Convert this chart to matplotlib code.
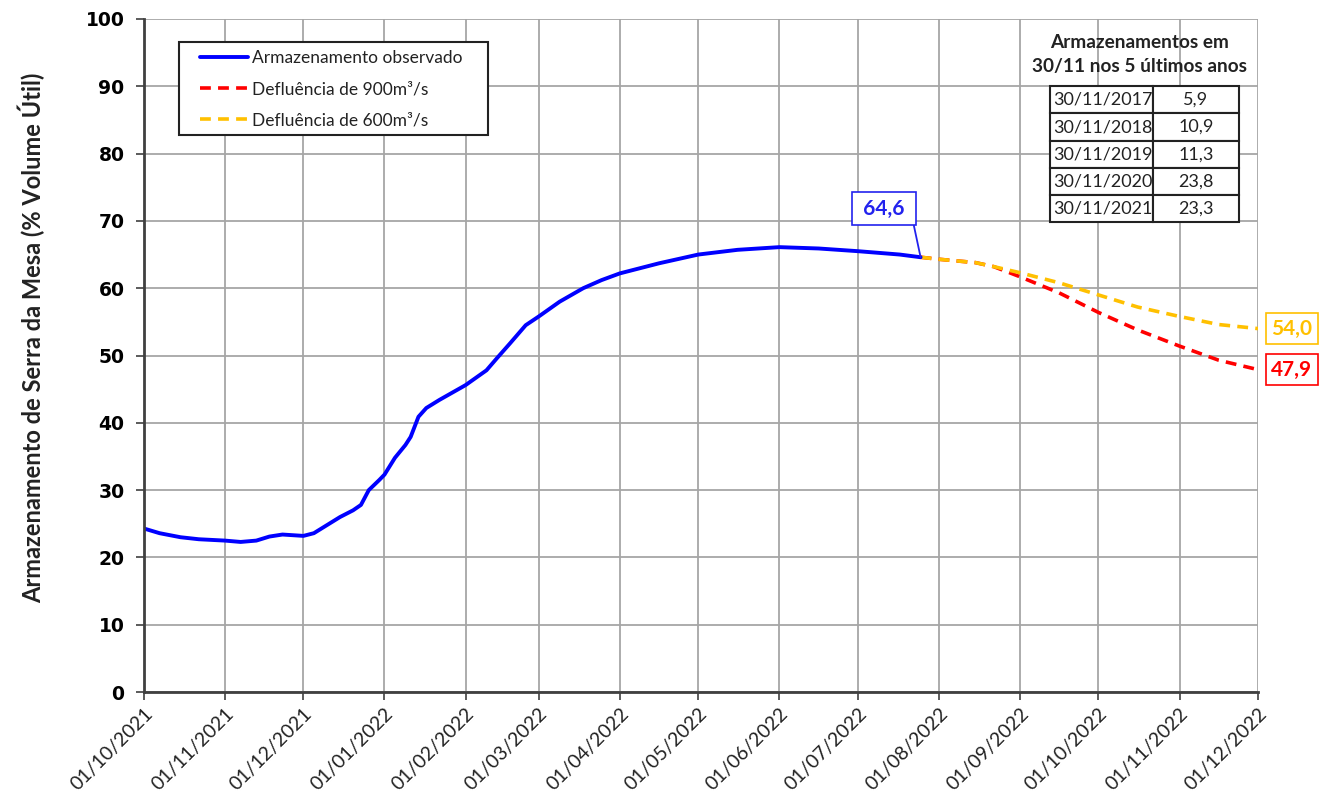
import matplotlib
matplotlib.use("Agg")
import matplotlib.pyplot as plt
import matplotlib.dates as mdates
from matplotlib.patches import Rectangle
import pandas as pd

# Observed storage (% useful volume)
obs_dates = ["2021-10-01", "2021-10-07", "2021-10-15", "2021-10-22", "2021-11-01",
             "2021-11-07", "2021-11-13", "2021-11-18", "2021-11-23", "2021-12-01",
             "2021-12-05", "2021-12-10", "2021-12-15", "2021-12-20", "2021-12-23",
             "2021-12-26", "2021-12-30", "2022-01-01", "2022-01-05", "2022-01-09",
             "2022-01-11", "2022-01-14", "2022-01-17", "2022-01-22", "2022-02-01",
             "2022-02-09", "2022-02-13", "2022-02-18", "2022-02-24", "2022-03-01",
             "2022-03-09", "2022-03-18", "2022-03-25", "2022-04-01", "2022-04-16",
             "2022-05-01", "2022-05-16", "2022-06-01", "2022-06-16", "2022-07-01",
             "2022-07-17", "2022-07-25"]
obs_values = [24.3, 23.6, 23.0, 22.7, 22.5, 22.3, 22.5, 23.1, 23.4, 23.2,
              23.6, 24.8, 26.0, 27.0, 27.8, 30.0, 31.5, 32.3, 34.8, 36.7,
              37.9, 40.9, 42.2, 43.4, 45.6, 47.8, 49.6, 51.8, 54.5, 55.8,
              58.0, 60.0, 61.2, 62.2, 63.7, 65.0, 65.7, 66.1, 65.9, 65.5,
              65.0, 64.6]

# Forecasts by outflow
fc_dates = ["2022-07-25", "2022-08-01", "2022-08-15", "2022-08-22", "2022-09-01",
            "2022-09-16", "2022-10-01", "2022-10-16", "2022-11-01", "2022-11-16",
            "2022-12-01"]
fc_900 = [64.6, 64.3, 63.8, 63.2, 61.7, 59.3, 56.4, 53.8, 51.4, 49.3, 47.9]
fc_600 = [64.6, 64.3, 63.8, 63.2, 62.3, 60.8, 59.0, 57.2, 55.8, 54.6, 54.0]

# Storage on 30/11 over the last five years
hist_dates = ["30/11/2017", "30/11/2018", "30/11/2019", "30/11/2020", "30/11/2021"]
hist_values = ["5,9", "10,9", "11,3", "23,8", "23,3"]

month_ticks = pd.date_range("2021-10-01", "2022-12-01", freq="MS")

obs_x = pd.to_datetime(obs_dates)
fc_x = pd.to_datetime(fc_dates)

BLUE = "#0000FF"
RED = "#FF0000"
YELLOW = "#FFC000"
TXT = "#222222"
FONT = "Lato"

fig = plt.figure(figsize=(13.2, 7.97), dpi=100)
ax = fig.add_axes([0.109, 0.1317, 0.844, 0.8445])

ax.plot(fc_x, fc_900, color=RED, lw=2.6, ls=(0, (3, 2)), label="Defluência de 900m³/s", zorder=3)
ax.plot(fc_x, fc_600, color=YELLOW, lw=2.6, ls=(0, (3, 2)), label="Defluência de 600m³/s", zorder=4)
ax.plot(obs_x, obs_values, color=BLUE, lw=2.8, label="Armazenamento observado", zorder=5,
        solid_joinstyle="round", solid_capstyle="round")

ax.set_xlim(month_ticks[0], month_ticks[-1])
ax.set_ylim(0, 100)
ax.set_yticks(range(0, 101, 10))
ax.set_xticks(month_ticks)
ax.xaxis.set_major_formatter(mdates.DateFormatter("%d/%m/%Y"))

ax.grid(True, color="#a6a6a6", lw=1.3)
ax.set_axisbelow(True)
for s in ("top", "right"):
    ax.spines[s].set_visible(False)
for s in ("left", "bottom"):
    ax.spines[s].set_color("#404040")
    ax.spines[s].set_linewidth(2)
    ax.spines[s].set_zorder(6)

ax.tick_params(axis="both", direction="out", length=6, width=1.2, color="#404040")
ax.tick_params(axis="y", pad=8)
for lbl in ax.get_yticklabels():
    lbl.set_fontfamily("DejaVu Sans")
    lbl.set_fontweight("bold")
    lbl.set_fontsize(13.5)
for lbl in ax.get_xticklabels():
    lbl.set_fontfamily(FONT)
    lbl.set_fontsize(14)
    lbl.set_rotation(45)
    lbl.set_ha("right")
    lbl.set_rotation_mode("anchor")
    lbl.set_color(TXT)

ax.set_ylabel("Armazenamento de Serra da Mesa (% Volume Útil)", fontfamily=FONT,
              fontweight="bold", fontsize=17, color=TXT)
ax.yaxis.set_label_coords(-0.089, 0.526)

# Legend (observed first) inside a plain rectangular frame
handles, labels = ax.get_legend_handles_labels()
order = [2, 0, 1]
ax.add_patch(Rectangle((0.0314, 0.8276), 0.2774, 0.1382, transform=ax.transAxes,
                       fc="white", ec=TXT, lw=1.5, zorder=6))
leg = ax.legend([handles[i] for i in order], [labels[i] for i in order],
                loc="upper left", bbox_to_anchor=(0.0503, 0.954), frameon=False,
                prop={"family": FONT, "size": 12.5}, handlelength=2.77,
                borderpad=0, labelspacing=0.88, handletextpad=0.25, borderaxespad=0)
leg.set_zorder(7)
for t in leg.get_texts():
    t.set_color(TXT)

# Value labels
ax.annotate(" 64,6 ", xy=(obs_x[-1], obs_values[-1]), xytext=(-26.5, 35),
            textcoords="offset points", ha="center", va="center", color="#2222EE",
            fontfamily=FONT, fontweight="bold", fontsize=15,
            bbox=dict(boxstyle="square,pad=0.3", fc="white", ec="#2222EE", lw=1.2),
            arrowprops=dict(arrowstyle="-", color="#2222EE", lw=1.3, shrinkA=0, shrinkB=0,
                            connectionstyle="angle,angleA=0,angleB=102,rad=0"),
            zorder=7)
for vals, col in ((fc_600, YELLOW), (fc_900, RED)):
    txt = f"{vals[-1]:.1f}".replace(".", ",")
    ax.annotate(txt, xy=(fc_x[-1], vals[-1]), xytext=(24.5, 0),
                textcoords="offset points", ha="center", va="center", color=col,
                fontfamily=FONT, fontweight="bold", fontsize=15, annotation_clip=False,
                bbox=dict(boxstyle="square,pad=0.28", fc="white", ec=col, lw=1.2))

# Table of past storage values
ax.text(0.894, 0.947, "Armazenamentos em\n30/11 nos 5 últimos anos", transform=ax.transAxes,
        ha="center", va="center", fontfamily=FONT, fontweight="bold", fontsize=13.7,
        linespacing=1.45, color=TXT, zorder=7)
tab = ax.table(cellText=[[d, v] for d, v in zip(hist_dates, hist_values)],
               cellLoc="center", colWidths=[0.545, 0.455],
               bbox=[0.813, 0.698, 0.170, 0.202], zorder=7)
tab.auto_set_font_size(False)
for (r, c), cell in tab.get_celld().items():
    cell.set_edgecolor(TXT)
    cell.set_linewidth(1.5)
    cell.set_facecolor("white")
    cell.get_text().set_fontfamily(FONT)
    cell.get_text().set_fontsize(13)
    cell.get_text().set_color(TXT)
    if c == 0:
        cell.get_text().set_ha("left")
        cell.PAD = 0.03

fig.savefig("out.png", dpi=100, facecolor="white")
